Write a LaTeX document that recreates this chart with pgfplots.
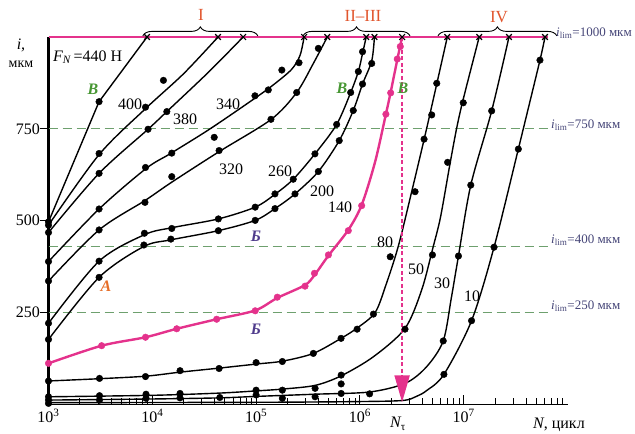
\documentclass[border=0pt]{standalone}
\usepackage{pgfplots}
\pgfplotsset{compat=1.18}
\usepackage{fontspec}
\setmainfont{Liberation Serif}
\usetikzlibrary{arrows.meta,decorations.pathreplacing}
\definecolor{mag}{RGB}{228,50,140}
\definecolor{dgreen}{RGB}{110,160,110}
\definecolor{lgreen}{RGB}{70,150,50}
\definecolor{purp}{RGB}{80,60,140}
\definecolor{orng}{RGB}{230,110,40}
\definecolor{rom}{RGB}{225,85,45}
\definecolor{rlab}{RGB}{70,70,120}
\newcommand\fs[1]{\fontsize{#1}{#1}\selectfont}
\begin{document}
\begin{tikzpicture}
\begin{axis}[
  at={(0pt,0pt)}, anchor=south west,
  width=519pt, height=367.5pt, scale only axis,
  xmode=log, log basis x=10, xmin=1e3, xmax=1e8, ymin=0, ymax=1000,
  axis lines*=left, clip=false,
  x axis line style={line width=1.6pt},
  y axis line style={line width=2.6pt},
  tick align=inside,
  major tick length=9pt, minor tick length=6pt,
  tick style={black, line width=0.9pt},
  y tick style={xshift=-9pt},
  xtick={1e3,1e4,1e5,1e6,1e7},
  xticklabels={10\textsuperscript{3},10\textsuperscript{4},10\textsuperscript{5},10\textsuperscript{6},10\textsuperscript{7}},
  minor xtick={2e3,3e3,4e3,5e3,6e3,7e3,8e3,9e3,2e4,3e4,4e4,5e4,6e4,7e4,8e4,9e4,2e5,3e5,4e5,5e5,6e5,7e5,8e5,9e5,2e6,3e6,4e6,5e6,6e6,7e6,8e6,9e6,2e7,3e7,4e7,5e7,6e7,7e7,8e7,9e7},
  ytick={250,500,750},
  yticklabels={250,500,750},
  xticklabel style={font=\fs{16}, yshift=-1pt},
  yticklabel style={font=\fs{16}, xshift=-5pt},
]
% reference lines
\addplot[mag, line width=2pt] coordinates {(1e3,1000) (6.5e7,1000)};
\addplot[dgreen, line width=1.1pt, dash pattern=on 9pt off 5pt] coordinates {(1e3,750) (6.5e7,750)};
\addplot[dgreen, line width=1.1pt, dash pattern=on 9pt off 5pt] coordinates {(1e3,430) (6.5e7,430)};
\addplot[dgreen, line width=1.1pt, dash pattern=on 9pt off 5pt] coordinates {(1e3,250) (6.5e7,250)};

% curves
\addplot[black, line width=1.4pt] coordinates {(1e3,497) (3.07e3,824) (8.9e3,1000)};
\addplot[black, line width=1.4pt, smooth, tension=0.5] coordinates {(1e3,488) (3.07e3,680) (8.6e3,805) (2e4,900) (4.3e4,1000)};
\addplot[black, line width=1.4pt, smooth, tension=0.5] coordinates {(1e3,468) (3.07e3,629) (9.1e3,749) (1.38e4,797) (3.5e4,905) (7.5e4,1000)};
\addplot[black, line width=1.4pt, smooth, tension=0.5] coordinates {(1e3,389) (3.07e3,532) (8.7e3,642) (1.5e4,683) (3.6e4,750) (9.7e4,833) (1.5e5,872) (2.2e5,912) (2.65e5,950) (2.9e5,1000)};
\addplot[black, line width=1.4pt, smooth, tension=0.5] coordinates {(1e3,336) (3.07e3,475) (8.5e3,555) (1.54e4,605) (4.4e4,688) (1.4e5,776) (2.46e5,849) (3.56e5,928) (4.85e5,1000)};
\addplot[black, line width=1.4pt, smooth, tension=0.5] coordinates {(1e3,221) (3.07e3,390) (8.4e3,462) (1.54e4,481) (4.33e4,505) (9.8e4,537) (1.52e5,572) (2.28e5,613) (3.69e5,682) (5.97e5,762) (8.15e5,849) (9.66e5,906) (1.06e6,955) (1.15e6,1000)};
\addplot[black, line width=1.4pt, smooth, tension=0.5] coordinates {(1e3,177) (3.07e3,346) (8.3e3,430) (1.51e4,448) (4.33e4,473) (9.8e4,501) (1.52e5,533) (2.37e5,573) (3.98e5,634) (6.32e5,718) (8.63e5,800) (1.06e6,872) (1.3e6,935) (1.38e6,1000)};
\addplot[black, line width=1.4pt, smooth, tension=0.5] coordinates {(1e3,64) (3e3,70) (8.6e3,77) (1.85e4,88) (4.4e4,99) (1e5,110) (1.8e5,118) (3.56e5,139) (6.58e5,180) (9.4e5,208) (1.4e6,250) (1.78e6,325) (2.34e6,430) (3.16e6,580) (4.47e6,760) (6.95e6,1000)};
\addplot[black, line width=1.4pt, smooth, tension=0.5] coordinates {(1e3,21) (1e4,25) (4.4e4,31) (1e5,37) (1.8e5,42) (3.7e5,52) (6.6e5,78) (1.35e6,130) (2.72e6,207) (3.94e6,312) (5.09e6,430) (5.98e6,510) (7.38e6,655) (8.53e6,750) (9.84e6,828) (1.41e7,1000)};
\addplot[black, line width=1.4pt, smooth, tension=0.5] coordinates {(1e3,12) (1e4,15) (4.4e4,18) (1e5,22) (3.7e5,28) (1.24e6,34) (2.75e6,58) (4.4e6,103) (6.35e6,173) (7.6e6,290) (8.9e6,404) (1.17e7,597) (1.86e7,799) (2.73e7,1000)};
\addplot[black, line width=1.4pt, smooth, tension=0.5] coordinates {(1e3,5) (1e5,6) (1e6,8) (2.6e6,11) (3.5e6,22) (4.4e6,38) (6.45e6,82) (1.19e7,228) (1.96e7,428) (3.36e7,695) (3.75e7,750) (5.43e7,937) (6.07e7,1000)};
% magenta 140 curve
\addplot[mag, line width=2.4pt, smooth, tension=0.5] coordinates {(1e3,112) (3.25e3,160) (8.6e3,183) (1.72e4,206) (4.17e4,232) (9.8e4,256) (1.6e5,290) (2.96e5,325) (3.65e5,352) (4.97e5,405) (7.73e5,475) (1.04e6,543) (1.4e6,660) (1.78e6,790) (1.98e6,850) (2.29e6,938) (2.55e6,1000)};

% black data points
\addplot[only marks, mark=*, mark size=3.3pt, black] coordinates {
(1e3,497) (1e3,488) (1e3,468) (1e3,389) (1e3,336) (1e3,221) (1e3,177) (1e3,64) (1e3,21) (1e3,12) (1e3,3)
(3.07e3,824)
(3.07e3,683) (8.6e3,809) (1.28e4,882)
(3.07e3,629) (9.1e3,749) (1.38e4,797)
(3.07e3,532) (8.6e3,645) (1.54e4,684) (3.95e4,727) (9.75e4,840) (1.31e5,856) (1.77e5,910) (2.59e5,930)
(3.07e3,475) (8.5e3,550) (1.54e4,620) (4.4e4,691) (1.39e5,776) (2.46e5,849) (3.98e5,969)
(3.07e3,390) (8.4e3,466) (1.54e4,479) (4.33e4,505) (9.8e4,537) (1.52e5,573) (2.28e5,613) (3.69e5,682) (5.97e5,762) (8.15e5,849) (9.66e5,906) (1.06e6,960)
(3.07e3,346) (8.3e3,434) (1.51e4,450) (4.33e4,473) (9.8e4,501) (1.52e5,533) (2.37e5,573) (3.98e5,634) (6.32e5,718) (8.63e5,800) (1.06e6,872) (1.3e6,928)
(3.1e3,71) (8.6e3,76) (1.85e4,92) (4.4e4,98) (1e5,114) (1.79e5,117) (3.56e5,139) (6.58e5,180) (9.4e5,205) (1.35e6,246) (1.96e6,402) (3.4e6,579) (4.15e6,722) (4.92e6,788) (5.5e6,874)
(3.1e3,24) (8.7e3,28) (1.85e4,30) (1e5,39) (1.79e5,39) (3.7e5,44) (6.6e5,80) (2.72e6,205) (5.0e6,407) (7.0e6,659) (9.9e6,821)
(3.1e3,12) (8.7e3,17) (1.85e4,18) (4.47e4,19) (1e5,26) (1.79e5,17) (3.7e5,21) (6.6e5,56) (6.6e5,30) (1.24e6,29) (6.35e6,173) (8.9e6,404) (1.17e7,597) (1.86e7,799)
(6.45e6,82) (1.19e7,228) (1.96e7,428) (3.36e7,695) (5.43e7,937)
};
% magenta data points
\addplot[only marks, mark=*, mark size=3.3pt, mag] coordinates {
(1e3,112) (3.25e3,160) (8.6e3,183) (1.72e4,206) (4.17e4,232) (9.8e4,255) (1.6e5,292) (2.96e5,322) (3.65e5,357) (4.97e5,407) (7.73e5,473) (1.04e6,541) (1.78e6,790) (1.98e6,848) (2.29e6,940) (2.45e6,974)
};
% failure crosses on i_lim = 1000
\addplot[only marks, mark=x, mark size=4pt, black, line width=1.2pt] coordinates {
(8.9e3,1000) (4.3e4,1000) (7.5e4,1000) (2.9e5,1000) (4.85e5,1000) (1.15e6,1000) (1.38e6,1000) (2.55e6,1000) (6.95e6,1000) (1.41e7,1000) (2.73e7,1000) (6.07e7,1000)
};
% N_tau arrow
\draw[mag, line width=2.2pt, dash pattern=on 4pt off 2.5pt, -{Triangle[width=15pt,length=27pt]}] (axis cs:2.55e6,1000) -- (axis cs:2.55e6,6);
% braces
\draw[black, line width=0.9pt, decorate, decoration={brace, amplitude=9pt}] (axis cs:8.1e3,1003) -- (axis cs:1.04e5,1003);
\draw[black, line width=0.9pt, decorate, decoration={brace, amplitude=9pt}] (axis cs:2.83e5,1003) -- (axis cs:3.04e6,1003);
\draw[black, line width=0.9pt, decorate, decoration={brace, amplitude=9pt}] (axis cs:5.65e6,1003) -- (axis cs:7.9e7,1003);
\end{axis}
\begin{scope}[x=1pt, y=-1pt, shift={(-48.5pt,404.5pt)}]
\path[use as bounding box] (0,0) rectangle (635,434);
\begin{scope}[every node/.style={inner sep=0pt, font=\fs{16}}]
\node at (130,104) {400};
\node at (185,119) {380};
\node at (228,104) {340};
\node at (231,169) {320};
\node at (280,171) {260};
\node at (322,191) {200};
\node at (340,207) {140};
\node at (385,242) {80};
\node at (416,269) {50};
\node at (442,283) {30};
\node at (472,296) {10};
\node[lgreen] at (93,89) {\bfseries\itshape В};
\node[lgreen] at (342,88) {\bfseries\itshape В};
\node[lgreen] at (403,88) {\bfseries\itshape В};
\node[purp] at (256,236) {\bfseries\itshape Б};
\node[purp] at (256,329) {\bfseries\itshape Б};
\node[orng] at (106,286) {\bfseries\itshape А};
\node[rom, font=\fs{17}] at (201,15) {I};
\node[rom, font=\fs{17}] at (363,16) {II–III};
\node[rom, font=\fs{17}] at (499,17) {IV};
\node at (21,45) {\itshape i,};
\node[font=\fs{14}] at (21,64) {мкм};
\node[anchor=west] at (53,57) {{\itshape F\textsubscript{N}}\,=440 Н};
\node at (398,424) {{\itshape N}\textsubscript{τ}};
\node[anchor=west] at (533,425) {{\itshape N}, цикл};
\node[rlab, anchor=west, font=\fs{13}] at (556,33) {{\itshape i}\textsubscript{lim}=1000 мкм};
\node[rlab, anchor=west, font=\fs{13}] at (551,125) {{\itshape i}\textsubscript{lim}=750 мкм};
\node[rlab, anchor=west, font=\fs{13}] at (551,240) {{\itshape i}\textsubscript{lim}=400 мкм};
\node[rlab, anchor=west, font=\fs{13}] at (551,306) {{\itshape i}\textsubscript{lim}=250 мкм};
\end{scope}
\end{scope}
\end{tikzpicture}
\end{document}
